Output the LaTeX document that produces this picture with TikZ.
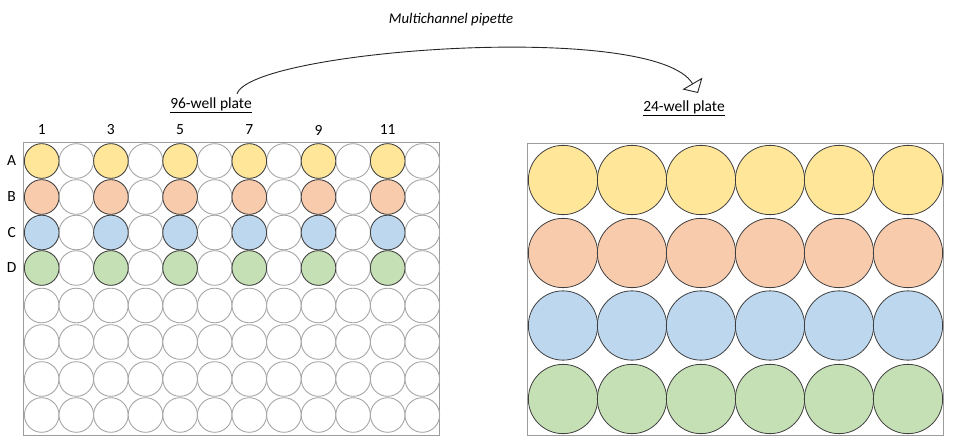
\documentclass[tikz,border=0pt]{standalone}
\usepackage{fontspec}
\setmainfont{Carlito}
\usetikzlibrary{arrows.meta,calc}
\definecolor{cyel}{HTML}{FFE699}
\definecolor{cora}{HTML}{F8CBAD}
\definecolor{cblu}{HTML}{BDD7EE}
\definecolor{cgrn}{HTML}{C5E0B4}
\definecolor{edgegray}{HTML}{A6A6A6}
\definecolor{plategray}{HTML}{9C9C9C}
\definecolor{darkedge}{HTML}{3F3F3F}
\begin{document}
\begin{tikzpicture}[x=1pt,y=-1pt,
  plate/.style={draw=plategray,line width=1pt},
  emptywell/.style={circle,draw=edgegray,line width=0.9pt,fill=white,inner sep=0pt,minimum size=34.6pt},
  fullwell/.style={circle,draw=darkedge,line width=0.8pt,inner sep=0pt,minimum size=34.6pt},
  bigwell/.style={circle,draw=darkedge,line width=0.8pt,inner sep=0pt,minimum size=69.3pt},
  lbl/.style={font=\fontsize{15.5}{18}\selectfont,text=black,inner sep=0pt},
  pipette/.style={draw=black!85,line width=0.9pt,-{Triangle[open,length=11pt,width=23pt,line width=0.9pt]}}
]
\useasboundingbox (0,0) rectangle (954,447);
% plates
\node[plate,draw,minimum width=416pt,minimum height=293pt,inner sep=0pt] (plate96) at (231,288.5) {};
\node[plate,draw,minimum width=416pt,minimum height=292pt,inner sep=0pt] (plate24) at (735,289) {};
% 96-well plate
\foreach \r/\y in {1/161,2/197,3/232.5,4/268,5/305.5,6/342,7/379,8/415}{
  \foreach \c in {1,...,12}{
    \pgfmathsetmacro{\xx}{41.7+34.6*(\c-1)}
    \node[emptywell] (w-\r-\c) at (\xx,\y) {};
  }
}
\foreach \r/\col in {1/cyel,2/cora,3/cblu,4/cgrn}{
  \foreach \c in {1,3,5,7,9,11}{
    \node[fullwell,fill=\col] (f-\r-\c) at (w-\r-\c) {};
  }
}
% column labels
\foreach \c in {1,3,5,7,9,11}{
  \node[lbl] (cl-\c) at ($(w-1-\c)+(0,-31)$) {\c};
}
% row labels
\foreach \r/\t in {1/A,2/B,3/C,4/D}{
  \node[lbl] (rl-\r) at ($(w-\r-1)+(-30,0)$) {\t};
}
% 24-well plate
\foreach \r/\y/\col in {1/180/cyel,2/253/cora,3/325.5/cblu,4/399/cgrn}{
  \foreach \c in {1,...,6}{
    \pgfmathsetmacro{\xx}{563+69*(\c-1)}
    \node[bigwell,fill=\col] (b-\r-\c) at (\xx,\y) {};
  }
}
% titles
\node[lbl] (t96) at (211,105) {\underline{96-well plate}};
\node[lbl] (t24) at (684,108) {\underline{24-well plate}};
\node[lbl,font=\fontsize{14.8}{17}\selectfont\itshape] (tpip) at (451,20) {Multichannel pipette};
% arc
\coordinate (arcS) at (237,94);
\coordinate (arcE) at (698,93);
\draw[pipette] (arcS) .. controls (250,50) and (655,20) .. (arcE);
\end{tikzpicture}
\end{document}
